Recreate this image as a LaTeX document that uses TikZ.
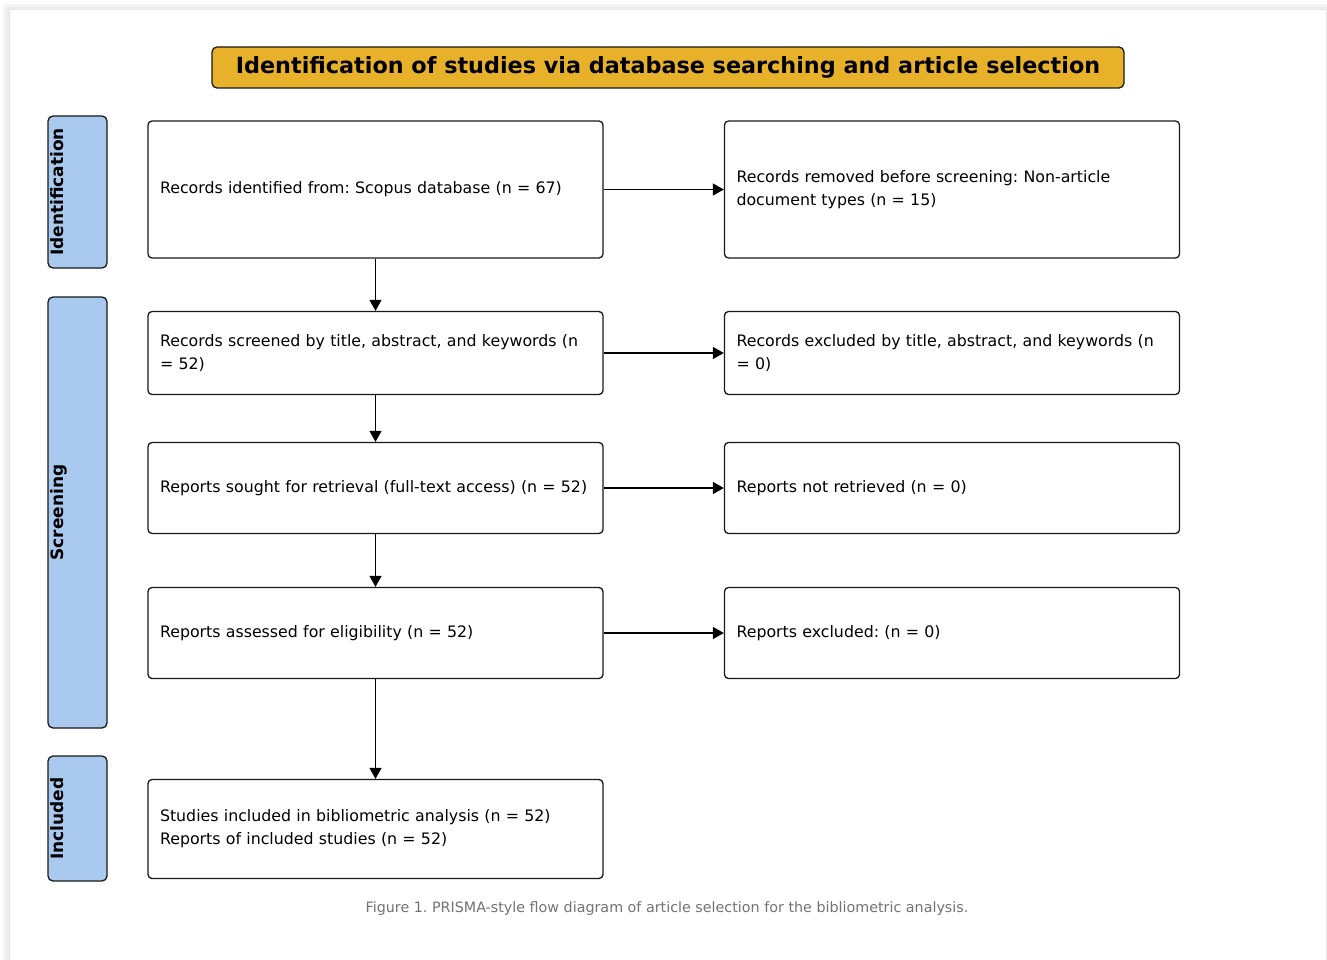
\documentclass[tikz,border=0pt]{standalone}
\usepackage{fontspec}
\setmainfont{DejaVu Sans}
\frenchspacing
\usetikzlibrary{arrows.meta,positioning}

\definecolor{titlegold}{HTML}{E8B12A}
\definecolor{phaseblue}{HTML}{A9CAEE}
\definecolor{capgray}{HTML}{737373}

\tikzset{
  stepbox/.style={draw=black!90, line width=1.3pt, rounded corners=4pt, fill=white,
    minimum width=455pt, text width=431pt, inner xsep=12pt, align=left,
    font=\fontsize{15.8}{23}\selectfont},
  phase/.style={draw=black!90, line width=1.3pt, rounded corners=5pt, fill=phaseblue,
    minimum width=59pt},
  phasetext/.style={rotate=90, anchor=north, inner sep=3pt,
    font=\bfseries\fontsize{17}{20}\selectfont},
  flow/.style={-{Triangle[length=11pt,width=12pt]}, line width=1.3pt}
}

\begin{document}
\begin{tikzpicture}[x=1pt,y=-1pt]
  \useasboundingbox (0,0) rectangle (1327,960);
  % card and its shadow
  \fill[black!4] (3,4) rectangle (1327,960);
  \fill[black!7] (6,7) rectangle (1327,960);
  \filldraw[fill=white, draw=black!10] (9,9) rectangle (1326,962);

  % title
  \node[draw=black!90, line width=1.3pt, rounded corners=5pt, fill=titlegold,
    minimum width=912pt, minimum height=41pt,
    font=\bfseries\fontsize{22.3}{24}\selectfont] (title) at (668,67.5)
    {\raisebox{-2pt}{Identification of studies via database searching and article selection}};

  % phases
  \node[phase, minimum height=152pt] (identbox) at (77.5,192) {};
  \node[phase, minimum height=431pt] (screenbox) at (77.5,512.5) {};
  \node[phase, minimum height=125pt] (inclbox) at (77.5,818.5) {};
  \node[phasetext] (ident) at (identbox.west) {Identification};
  \node[phasetext] (screen) at (screenbox.west) {Screening};
  \node[phasetext] (incl) at (inclbox.west) {Included};

  % main column
  \node[stepbox, minimum height=137pt] (found) at (375.5,189.5)
    {Records identified from: Scopus database (n = 67)};
  \node[stepbox, minimum height=83pt] (screened) at (375.5,353)
    {Records screened by title, abstract, and keywords (n\\= 52)};
  \node[stepbox, minimum height=91pt] (sought) at (375.5,488)
    {Reports sought for retrieval (full-text access) (n = 52)};
  \node[stepbox, minimum height=91pt] (assessed) at (375.5,633)
    {Reports assessed for eligibility (n = 52)};
  \node[stepbox, minimum height=99pt] (included) at (375.5,829)
    {Studies included in bibliometric analysis (n = 52)\\Reports of included studies (n = 52)};

  % side column
  \node[stepbox, minimum height=137pt] (removed) at (952,189.5)
    {Records removed before screening: Non-article\\document types (n = 15)};
  \node[stepbox, minimum height=83pt] (excluded) at (952,353)
    {Records excluded by title, abstract, and keywords (n\\= 0)};
  \node[stepbox, minimum height=91pt] (notret) at (952,488)
    {Reports not retrieved (n = 0)};
  \node[stepbox, minimum height=91pt] (repexcl) at (952,633)
    {Reports excluded: (n = 0)};

  % arrows
  \draw[flow] (found) -- (screened);
  \draw[flow] (screened) -- (sought);
  \draw[flow] (sought) -- (assessed);
  \draw[flow] (assessed) -- (included);
  \draw[flow] (found) -- (removed);
  \draw[flow] (screened) -- (excluded);
  \draw[flow] (sought) -- (notret);
  \draw[flow] (assessed) -- (repexcl);

  % caption
  \node[text=capgray, font=\fontsize{14.3}{16}\selectfont] (caption) at (667,909)
    {Figure 1. PRISMA-style flow diagram of article selection for the bibliometric analysis.};
\end{tikzpicture}
\end{document}
